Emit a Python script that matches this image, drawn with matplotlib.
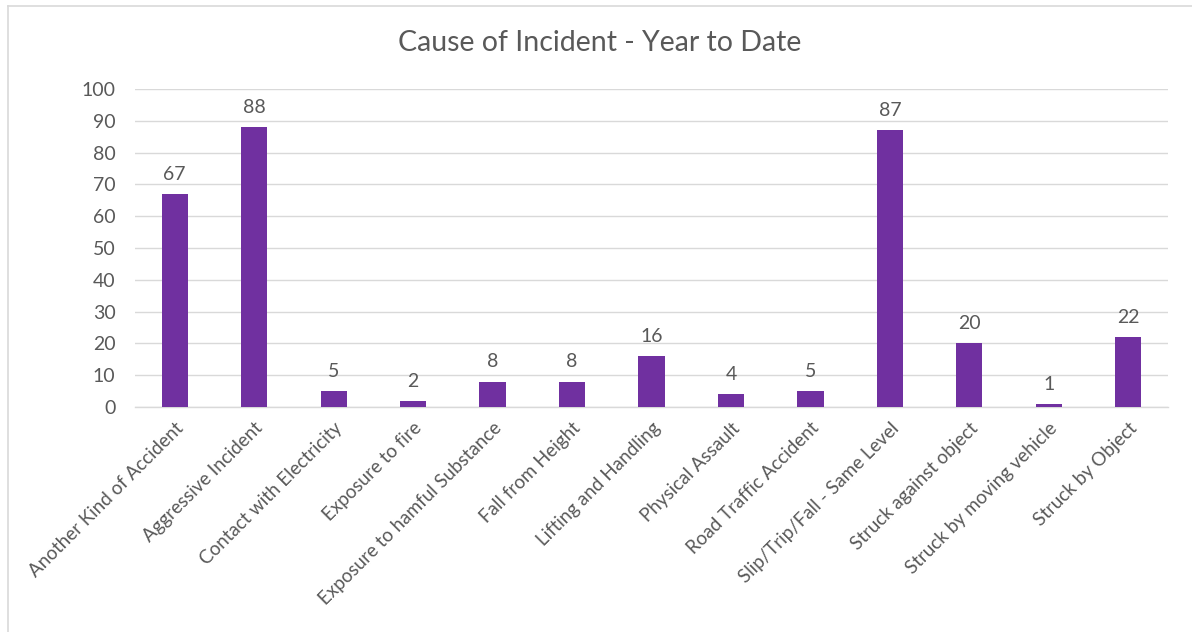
import numpy as np
import matplotlib.pyplot as plt
from matplotlib.lines import Line2D

plt.rcParams['font.family'] = ['Lato', 'DejaVu Sans']

causes = ['Another Kind of Accident', 'Aggressive Incident', 'Contact with Electricity',
          'Exposure to fire', 'Exposure to hamful Substance', 'Fall from Height',
          'Lifting and Handling', 'Physical Assault', 'Road Traffic Accident',
          'Slip/Trip/Fall - Same Level', 'Struck against object',
          'Struck by moving vehicle', 'Struck by Object']
counts = [67, 88, 5, 2, 8, 8, 16, 4, 5, 87, 20, 1, 22]
yticks = [0, 10, 20, 30, 40, 50, 60, 70, 80, 90, 100]

txt = '#595959'
grid = '#d9d9d9'
purple = '#7030A0'

fig = plt.figure(figsize=(11.92, 6.32), dpi=100)
ax = fig.add_axes([135/1192, 1-407/632, (1168-135)/1192, (407-89)/632])

x = np.arange(len(causes))
ax.bar(x, counts, width=0.33, color=purple, zorder=3)
for xi, v in zip(x, counts):
    ax.annotate(str(v), (xi, v), xytext=(0, 8), textcoords='offset points',
                ha='center', va='bottom', fontsize=14, color=txt)

ax.set_xlim(-0.5, len(causes) - 0.5)
ax.set_ylim(0, 100)
ax.set_yticks(yticks)
ax.set_yticklabels([str(t) for t in yticks], fontsize=14, color=txt)
ax.yaxis.grid(True, color=grid, linewidth=1, zorder=0)
ax.set_xticks(x)
ax.set_xticklabels(causes, rotation=45, ha='right', va='top', rotation_mode='anchor',
                   fontsize=13.5, color=txt)
ax.tick_params(axis='both', length=0)
ax.tick_params(axis='y', pad=14)
ax.tick_params(axis='x', pad=9)
for s in ['top', 'right', 'left']:
    ax.spines[s].set_visible(False)
ax.spines['bottom'].set_color(grid)
ax.spines['bottom'].set_linewidth(1)

fig.text(600/1192, 1-43/632, 'Cause of Incident - Year to Date', ha='center', va='center',
         fontsize=20.5, color=txt)

# chart frame
fig.add_artist(Line2D([8/1192, 8/1192], [0, 1-6/632], color=grid, linewidth=1.2))
fig.add_artist(Line2D([8/1192, 1], [1-6/632, 1-6/632], color=grid, linewidth=1.2))

fig.savefig('out.png', dpi=100, facecolor='white')
